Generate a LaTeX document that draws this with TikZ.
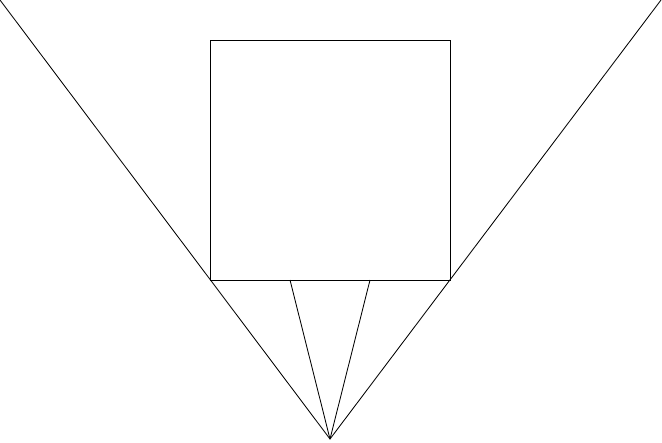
\documentclass[tikz,border=0pt]{standalone}
\usepackage{tikz}
\usetikzlibrary{calc}

\begin{document}
\begin{tikzpicture}[
    x=0.025cm, y=-0.025cm,
    edge/.style={draw=black, line width=0.6pt},
    frame/.style={draw=black, line width=0.6pt}
]
    \useasboundingbox (0,0) rectangle (662,442);

    % ============================================================
    % POINTS
    % ============================================================
    \coordinate (apex) at (330,439);
    \coordinate (far-left) at (0,0);
    \coordinate (far-right) at (661,0);
    \coordinate (box-nw) at (210,40);
    \coordinate (box-se) at (450,280);
    \coordinate (foot-a) at (290,280);
    \coordinate (foot-b) at (370,280);

    % Square
    \draw[frame] (box-nw) rectangle (box-se);

    % Outer V
    \draw[edge] (far-left) -- (apex) -- (far-right);

    % Inner rays
    \draw[edge] (apex) -- (foot-a);
    \draw[edge] (apex) -- (foot-b);

\end{tikzpicture}
\end{document}
